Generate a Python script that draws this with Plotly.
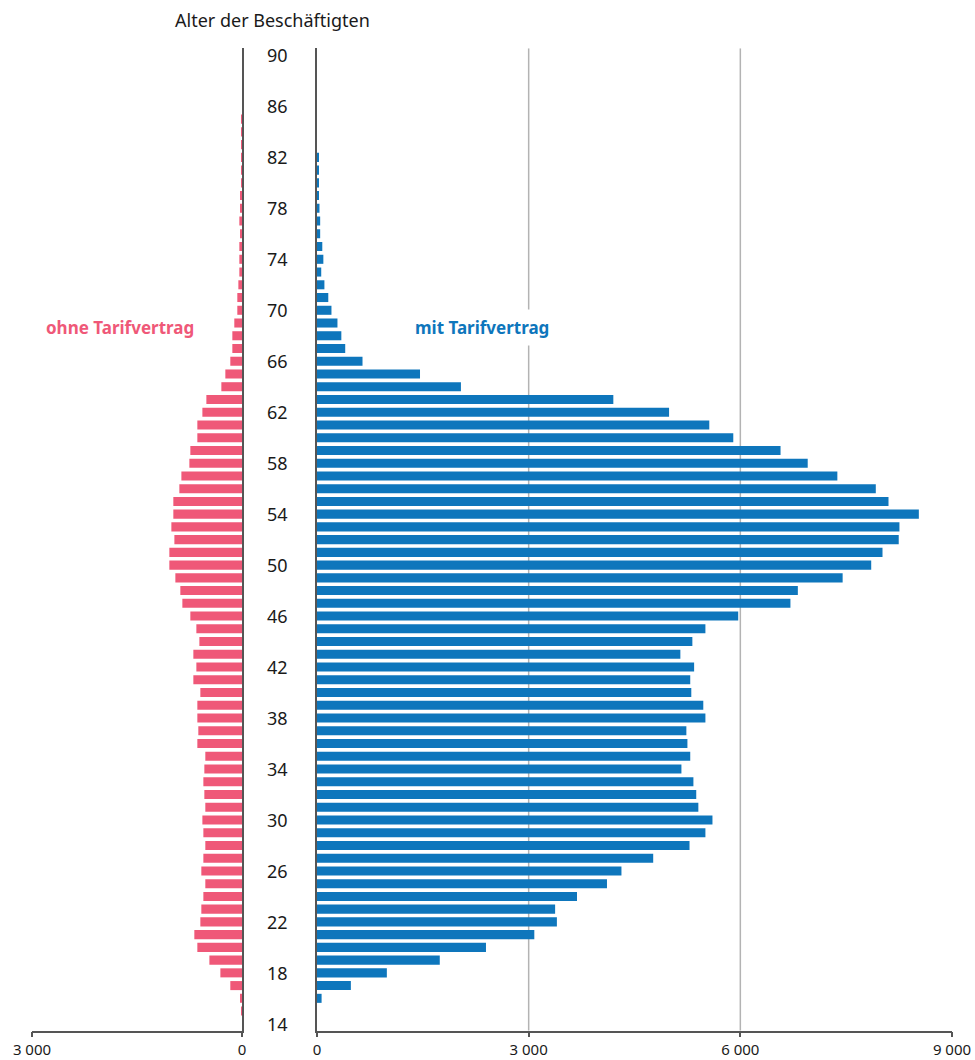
import plotly.graph_objects as go

# ---- data -------------------------------------------------------------
ages_mit = list(range(16, 83))
mit_tarif = [65, 480, 990, 1740, 2395, 3080, 3400, 3375, 3685, 4110,
             4315, 4765, 5280, 5505, 5605, 5405, 5375, 5335, 5165, 5290,
             5250, 5235, 5505, 5475, 5305, 5290, 5345, 5150, 5320, 5505,
             5970, 6710, 6815, 7450, 7855, 8015, 8245, 8255, 8530, 8100,
             7920, 7375, 6955, 6570, 5900, 5560, 4990, 4200, 2040, 1460,
             645, 400, 345, 290, 205, 160, 105, 60, 90, 75,
             45, 45, 35, 15, 15, 20, 20]

ages_ohne = list(range(15, 86))
ohne_tarif = [8, 24, 167, 309, 466, 638, 681, 595, 581, 552,
              524, 581, 552, 524, 552, 566, 524, 538, 552, 538,
              524, 638, 624, 638, 638, 595, 695, 652, 695, 609,
              652, 738, 852, 881, 952, 1038, 1038, 966, 1009, 981,
              981, 895, 866, 752, 738, 638, 638, 566, 509, 295,
              238, 167, 138, 138, 110, 67, 67, 52, 38, 38,
              38, 24, 38, 24, 24, 12, 10, 10, 8, 7,
              6]

age_ticks = list(range(14, 91, 4))
left_ticks = [3000, 0]
left_ticktext = ["3 000", "0"]
right_ticks = [0, 3000, 6000, 9000]
right_ticktext = ["0", "3 000", "6 000", "9 000"]
grid_vals = [3000, 6000]

label_ohne = "ohne Tarifvertrag"
label_mit = "mit Tarifvertrag"
title_text = "Alter der Beschäftigten"

# ---- styling ----------------------------------------------------------
PINK = "#EF5878"
BLUE = "#0E76BC"
AXIS = "#555555"
GRID = "#B3B3B3"
TEXT = "#1a1a1a"
FONT = "Noto Sans"

W, H = 975, 1060
def px_x(p):
    return p / W
def px_y(p):
    return (H - p) / H

y_dom = [px_y(1030.7), px_y(48.3)]
y_range = [13.46, 90.56]

fig = go.Figure()
fig.add_trace(go.Bar(
    x=ohne_tarif, y=ages_ohne, orientation="h",
    marker=dict(color=PINK, line=dict(width=0)),
    xaxis="x", yaxis="y", hoverinfo="x+y", name=label_ohne,
))
fig.add_trace(go.Bar(
    x=mit_tarif, y=ages_mit, orientation="h",
    marker=dict(color=BLUE, line=dict(width=0)),
    xaxis="x2", yaxis="y2", hoverinfo="x+y", name=label_mit,
))

axis_common = dict(
    showgrid=False, zeroline=False, showline=True, linecolor=AXIS,
    linewidth=1.5, ticks="outside", ticklen=5, tickcolor=AXIS, tickwidth=1.5,
    tickfont=dict(family=FONT, size=15, color=TEXT), automargin=False,
    fixedrange=True,
)

fig.update_layout(
    width=W, height=H,
    margin=dict(l=0, r=0, t=0, b=0),
    paper_bgcolor="white", plot_bgcolor="rgba(0,0,0,0)",
    showlegend=False, bargap=0.29,
    font=dict(family=FONT, color=TEXT),
    xaxis=dict(domain=[px_x(32), px_x(242)], range=[3000, 0],
               tickvals=left_ticks, ticktext=left_ticktext,
               anchor="y", **axis_common),
    xaxis2=dict(domain=[px_x(317), px_x(952)], range=[0, 9000],
                tickvals=right_ticks, ticktext=right_ticktext,
                anchor="y2", **axis_common),
    yaxis=dict(domain=y_dom, range=y_range, anchor="x", side="right",
               showline=True, linecolor=AXIS, linewidth=1.5,
               showgrid=False, zeroline=False, showticklabels=False,
               ticks="", automargin=False, fixedrange=True),
    yaxis2=dict(domain=y_dom, range=y_range, anchor="x2", side="left",
                showline=True, linecolor=AXIS, linewidth=1.5,
                showgrid=False, zeroline=False, showticklabels=False,
                ticks="", automargin=False, fixedrange=True),
)

# vertical gridlines of the right panel
for gv in grid_vals:
    fig.add_shape(type="line", xref="x2", yref="y2", x0=gv, x1=gv,
                  y0=y_range[0], y1=y_range[1],
                  line=dict(color=GRID, width=1.5), layer="below")

# age labels in the centre column
for a in age_ticks:
    fig.add_annotation(x=px_x(277), xref="paper", y=a, yref="y",
                       text=str(a), showarrow=False,
                       font=dict(family=FONT, size=18, color=TEXT),
                       xanchor="center", yanchor="middle")

fig.add_annotation(x=px_x(272), y=px_y(20), xref="paper", yref="paper",
                   text=title_text, showarrow=False,
                   font=dict(family=FONT, size=18, color=TEXT),
                   xanchor="center", yanchor="middle")

fig.add_annotation(x=px_x(120), y=px_y(327), xref="paper", yref="paper",
                   text="<b>" + label_ohne + "</b>", showarrow=False,
                   font=dict(family=FONT, size=17, color=PINK),
                   xanchor="center", yanchor="middle")

fig.add_annotation(x=px_x(482), y=px_y(327), xref="paper", yref="paper",
                   text="<b>" + label_mit + "</b>", showarrow=False,
                   font=dict(family=FONT, size=17, color=BLUE),
                   bgcolor="white", borderpad=6,
                   xanchor="center", yanchor="middle")

fig.write_html(
    "out.html",
    config={"displayModeBar": False},
    post_script="document.body.style.margin='0';document.body.style.overflow='hidden';",
)
